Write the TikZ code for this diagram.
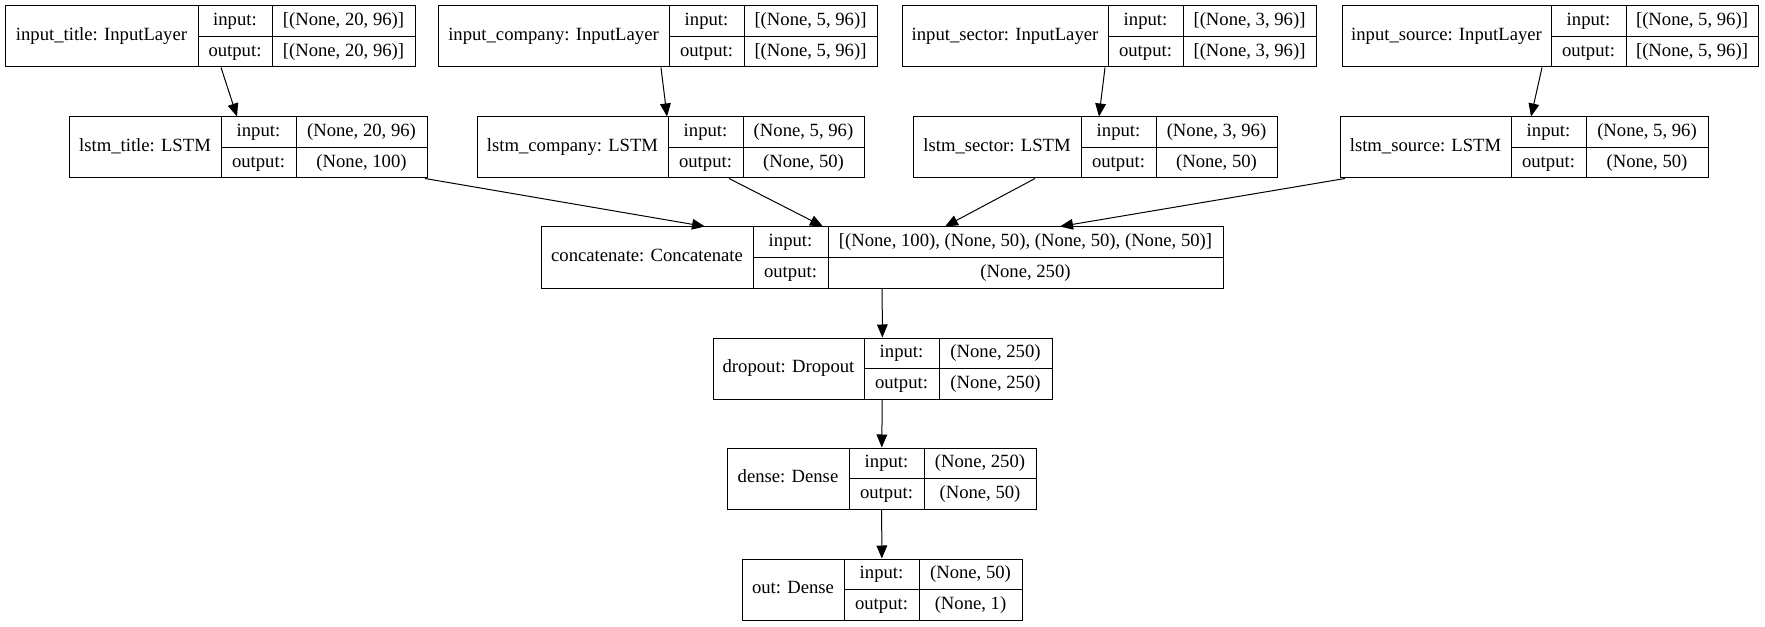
\documentclass[tikz,border=0pt]{standalone}
\usepackage{fontspec}
\setmainfont{Liberation Serif}
\usetikzlibrary{arrows.meta,fit}

\newcommand{\layer}[9]{%
  \node [rec,fit={(#2,#3) (#6,{#3+61})}] (#1) {};
  \draw (#4,#3) -- (#4,{#3+61}) (#5,#3) -- (#5,{#3+61})
    (#4,{#3+30.5}) -- (#6,{#3+30.5});
  \node [lbl] at ({(#2+#4)/2},{#3+30.5}) {#7};
  \node [lbl] at ({(#4+#5)/2},{#3+15.25}) {input:};
  \node [lbl] at ({(#4+#5)/2},{#3+45.75}) {output:};
  \node [lbl] at ({(#5+#6)/2},{#3+15.25}) {#8};
  \node [lbl] at ({(#5+#6)/2},{#3+45.75}) {#9};
}

\begin{document}
\begin{tikzpicture}[x=0.75pt,y=-0.75pt,line width=0.75pt,
    font=\fontsize{14}{16}\selectfont,
    rec/.style={draw,inner sep=0pt},
    lbl/.style={inner sep=0pt,text height=9.5pt,text depth=3pt},
    >={Triangle[length=9.75pt,width=8pt]}]
\useasboundingbox (0,0) rectangle (1765,627);
\layer{in_title}{5}{6}{198}{272}{415}{input\_title: InputLayer}{[(None, 20, 96)]}{[(None, 20, 96)]}
\layer{in_company}{438}{6}{669}{744}{877}{input\_company: InputLayer}{[(None, 5, 96)]}{[(None, 5, 96)]}
\layer{in_sector}{902}{6}{1108}{1183}{1316}{input\_sector: InputLayer}{[(None, 3, 96)]}{[(None, 3, 96)]}
\layer{in_source}{1342}{6}{1551}{1626}{1758}{input\_source: InputLayer}{[(None, 5, 96)]}{[(None, 5, 96)]}
\layer{lstm_title}{69}{117}{221}{296}{427}{lstm\_title: LSTM}{(None, 20, 96)}{(None, 100)}
\layer{lstm_company}{477}{117}{668}{743}{864}{lstm\_company: LSTM}{(None, 5, 96)}{(None, 50)}
\layer{lstm_sector}{913}{117}{1081}{1156}{1277}{lstm\_sector: LSTM}{(None, 3, 96)}{(None, 50)}
\layer{lstm_source}{1340}{117}{1511}{1586}{1708}{lstm\_source: LSTM}{(None, 5, 96)}{(None, 50)}
\layer{concat}{541}{227}{753}{828}{1223}{concatenate: Concatenate}{[(None, 100), (None, 50), (None, 50), (None, 50)]}{(None, 250)}
\layer{dropout}{713}{338}{864}{939}{1052}{dropout: Dropout}{(None, 250)}{(None, 250)}
\layer{dense}{727}{448}{849}{924}{1036}{dense: Dense}{(None, 250)}{(None, 50)}
\layer{out}{742}{559}{844}{919}{1022}{out: Dense}{(None, 50)}{(None, 1)}
\draw [->] ([xshift=8.25pt]in_title.south) -- ([xshift=-8.25pt]lstm_title.north);
\draw [->] ([xshift=2.6pt]in_company.south) -- ([xshift=-2.6pt]lstm_company.north);
\draw [->] ([xshift=-3pt]in_sector.south) -- ([xshift=3pt]lstm_sector.north);
\draw [->] ([xshift=-6pt]in_source.south) -- ([xshift=5.25pt]lstm_source.north);
\draw [->] ([xshift=132.75pt]lstm_title.south) -- ([xshift=-132.75pt]concat.north);
\draw [->] ([xshift=43.9pt]lstm_company.south) -- ([xshift=-44.25pt]concat.north);
\draw [->] ([xshift=-45pt]lstm_sector.south) -- ([xshift=47.25pt]concat.north);
\draw [->] ([xshift=-134.25pt]lstm_source.south) -- ([xshift=133.5pt]concat.north);
\draw [->] (concat) -- (dropout);
\draw [->] (dropout) -- (dense);
\draw [->] (dense) -- (out);
\end{tikzpicture}
\end{document}
